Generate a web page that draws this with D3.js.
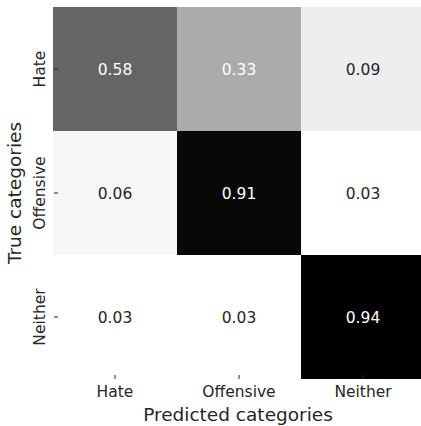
<!DOCTYPE html>
<html>
<head>
<meta charset="utf-8">
<script src="https://cdn.jsdelivr.net/npm/d3@7"></script>
<style>
  html, body { margin: 0; padding: 0; background: #ffffff; overflow: hidden; }
  svg { display: block; font-family: "DejaVu Sans", sans-serif; }
</style>
</head>
<body>
<svg id="chart" width="421" height="426"></svg>
<script>
const trueCategories = ["Hate", "Offensive", "Neither"];
const predictedCategories = ["Hate", "Offensive", "Neither"];
const rowHate = [0.58, 0.33, 0.09];
const rowOffensive = [0.06, 0.91, 0.03];
const rowNeither = [0.03, 0.03, 0.94];
const matrix = [rowHate, rowOffensive, rowNeither];

const xLabel = "Predicted categories";
const yLabel = "True categories";

const svg = d3.select("#chart");
const plotLeft = 53, plotTop = 7, cellSize = 124;
const plotW = cellSize * predictedCategories.length;
const plotH = cellSize * trueCategories.length;

const x = d3.scaleBand().domain(predictedCategories).range([plotLeft, plotLeft + plotW]);
const y = d3.scaleBand().domain(trueCategories).range([plotTop, plotTop + plotH]);

const cells = [];
matrix.forEach((row, i) => row.forEach((v, j) => cells.push({ t: trueCategories[i], p: predictedCategories[j], v })));

const allVals = cells.map(d => d.v);
const color = d3.scaleLinear()
  .domain([d3.min(allVals), d3.max(allVals)])
  .range(["#ffffff", "#000000"]);

svg.append("g").selectAll("rect").data(cells).join("rect")
  .attr("x", d => x(d.p))
  .attr("y", d => y(d.t))
  .attr("width", x.bandwidth())
  .attr("height", y.bandwidth())
  .attr("fill", d => color(d.v))
  .attr("shape-rendering", "crispEdges");

svg.append("g").selectAll("text").data(cells).join("text")
  .attr("x", d => x(d.p) + x.bandwidth() / 2)
  .attr("y", d => y(d.t) + y.bandwidth() / 2)
  .attr("dy", "0.36em")
  .attr("text-anchor", "middle")
  .attr("font-size", "15.5px")
  .attr("fill", d => d.v >= 0.3 ? "#ffffff" : "#262626")
  .text(d => d.v.toFixed(2));

// x axis ticks (drawn just inside bottom edge, as in reference)
const xAxis = d3.axisBottom(x).tickSize(4).tickPadding(7);
const gx = svg.append("g").attr("transform", `translate(0,${plotTop + plotH - 4})`).call(xAxis);
gx.select(".domain").remove();
gx.selectAll(".tick line").attr("stroke", "#262626").attr("stroke-width", 1);
gx.selectAll(".tick text")
  .attr("font-size", "15.5px")
  .attr("font-family", "DejaVu Sans, sans-serif")
  .attr("fill", "#262626");

// y axis ticks
const yAxis = d3.axisLeft(y).tickSize(4).tickPadding(11);
const gy = svg.append("g").attr("transform", `translate(${plotLeft + 5},0)`).call(yAxis);
gy.select(".domain").remove();
gy.selectAll(".tick line").attr("stroke", "#262626").attr("stroke-width", 1);
gy.selectAll(".tick text")
  .attr("font-size", "15.5px")
  .attr("font-family", "DejaVu Sans, sans-serif")
  .attr("fill", "#262626")
  .attr("text-anchor", "middle")
  .attr("dy", "0")
  .attr("transform", function () {
    const tx = +d3.select(this).attr("x");
    return `translate(${tx + 1.5},0) rotate(-90)`;
  })
  .attr("x", 0)
  .attr("y", 0);

svg.append("text")
  .attr("x", plotLeft + plotW / 2 - 1)
  .attr("y", 421)
  .attr("text-anchor", "middle")
  .attr("font-size", "18.5px")
  .attr("fill", "#262626")
  .text(xLabel);

svg.append("text")
  .attr("transform", `translate(21,${plotTop + plotH / 2}) rotate(-90)`)
  .attr("text-anchor", "middle")
  .attr("font-size", "18.5px")
  .attr("fill", "#262626")
  .text(yLabel);
</script>
</body>
</html>
